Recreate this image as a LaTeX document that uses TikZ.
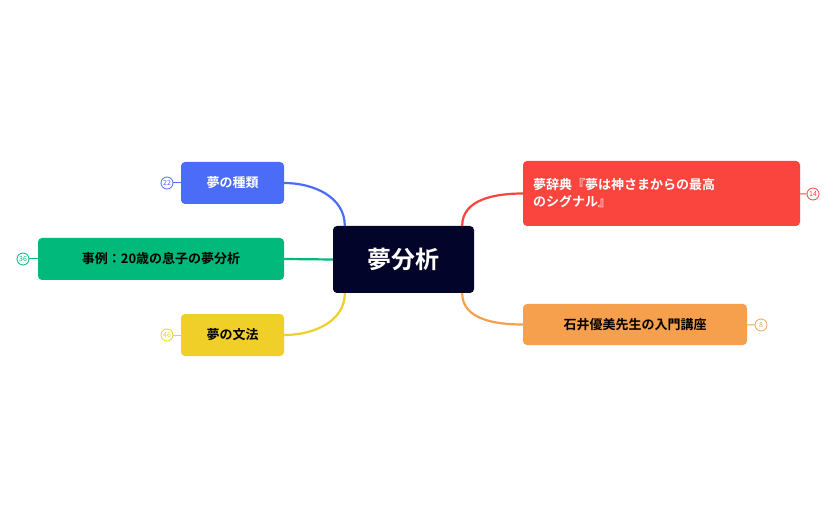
\documentclass[tikz,border=0pt]{standalone}
\usepackage{fontspec}
\setmainfont{Noto Sans CJK JP}[BoldFont={Noto Sans CJK JP Bold}]
\usetikzlibrary{calc}
\definecolor{cblue}{HTML}{4A6CF7}
\definecolor{cgreen}{HTML}{00B97A}
\definecolor{cyellow}{HTML}{F0D028}
\definecolor{cred}{HTML}{F9453E}
\definecolor{corange}{HTML}{F6A04D}
\definecolor{cnavy}{HTML}{02042A}
\tikzset{
  topic/.style={rounded corners=4pt, inner sep=0pt, minimum height=42pt, font=\bfseries\fontsize{13}{17}\selectfont},
  badge/.style={circle, draw=#1, line width=0.8pt, fill=white, minimum size=12pt, inner sep=0pt, text=#1, font=\fontsize{7}{7}\selectfont},
  branch/.style={line width=2.2pt}
}
\begin{document}
\begin{tikzpicture}[x=1pt,y=-1pt]
\useasboundingbox (0,0) rectangle (837,518);
\coordinate (O) at (0,0);
\node[fill=cnavy, rounded corners=4pt, minimum width=141pt, minimum height=67pt, text=white, font=\bfseries\fontsize{24}{28}\selectfont] (center) at (403.5,259.5) {夢分析};
\node[topic, fill=cblue, text=white, minimum width=103pt] (kind) at (232.5,183) {夢の種類};
\node[topic, fill=cgreen, text=black, minimum width=246pt] (case) at (161,259) {事例：20歳の息子の夢分析};
\node[topic, fill=cyellow, text=black, minimum width=103pt] (grammar) at (232.5,335) {夢の文法};
\node[topic, fill=cred, text=white, minimum width=277pt, minimum height=65pt, align=left, text width=257pt] (dict) at (661.5,193.5) {夢辞典『夢は神さまからの最高\\のシグナル』};
\node[topic, fill=corange, text=black, minimum width=224pt, minimum height=41pt] (course) at (635,324.5) {石井優美先生の入門講座};
% badges
\node[badge=cblue] (bkind) at (167,183) {22};
\node[badge=cgreen] (bcase) at (23,259) {36};
\node[badge=cyellow] (bgrammar) at (167,335) {46};
\node[badge=cred] (bdict) at (813,194) {14};
\node[badge=corange] (bcourse) at (761,325) {8};
\draw[cblue, line width=1pt] (bkind) -- (kind);
\draw[cgreen, line width=1pt] (bcase) -- (case);
\draw[cyellow, line width=1pt] (bgrammar) -- (grammar);
\draw[cred, line width=1pt] (dict) -- (bdict);
\draw[corange, line width=1pt] (course) -- (bcourse);
% branches
\coordinate (cnw) at ($(center.north west)+(12,0)$);
\coordinate (csw) at ($(center.south west)+(12,0)$);
\coordinate (cne) at ($(center.north east)+(-12,0)$);
\coordinate (cse) at ($(center.south east)+(-12,0)$);
\draw[branch, cblue] (kind.east) to[out=0, in=-90+180] (cnw);
\draw[branch, cgreen] (case.east) -- (center.west);
\draw[branch, cyellow] (grammar.east) to[out=0, in=-90] (csw);
\draw[branch, cred] (dict.west) to[out=180, in=90] (cne);
\draw[branch, corange] (course.west) to[out=180, in=-90] (cse);
\end{tikzpicture}
\end{document}
